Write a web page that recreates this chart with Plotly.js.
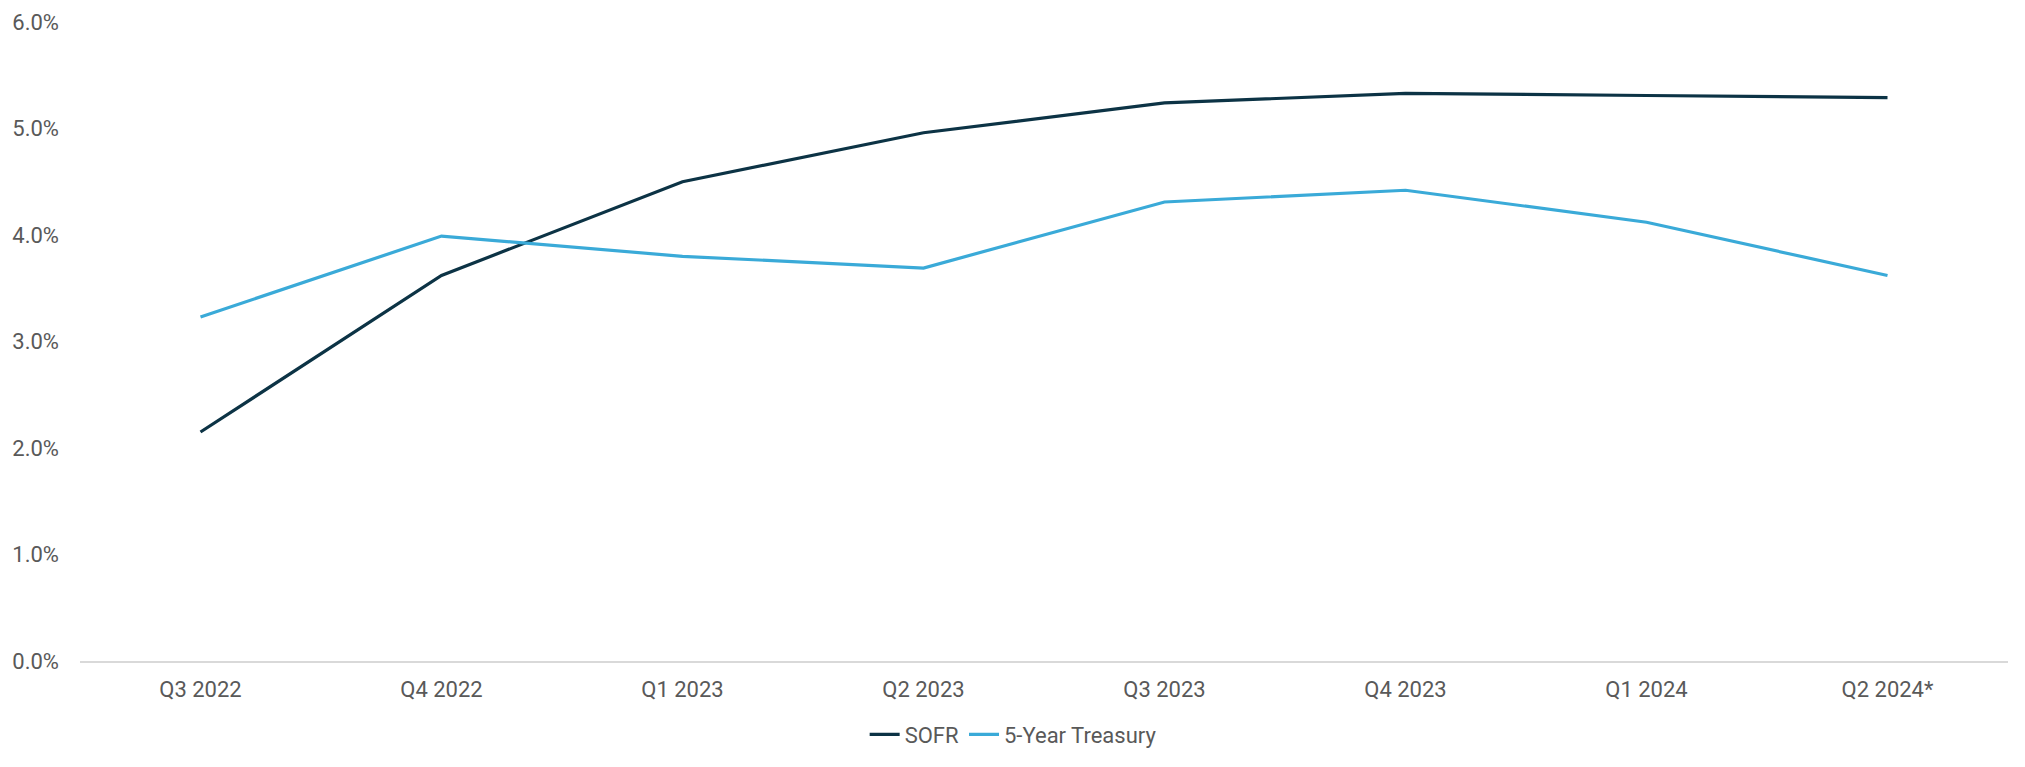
<!DOCTYPE html>
<html>
<head>
<meta charset="utf-8">
<script src="https://cdn.plot.ly/plotly-3.0.1.min.js"></script>
<style>html,body{margin:0;padding:0;background:#fff;}#chart{width:2025px;height:767px;}</style>
</head>
<body>
<div id="chart"></div>
<script>
const quarters = ["Q3 2022","Q4 2022","Q1 2023","Q2 2023","Q3 2023","Q4 2023","Q1 2024","Q2 2024*"];
const sofr = [2.15, 3.62, 4.50, 4.96, 5.24, 5.33, 5.31, 5.29];
const treasury5y = [3.23, 3.99, 3.80, 3.69, 4.31, 4.42, 4.12, 3.62];
const yTicks = [0, 1, 2, 3, 4, 5, 6];

const textColor = "#595959";
const traces = [
  {x: quarters, y: sofr, name: "SOFR", type: "scatter", mode: "lines",
   line: {color: "#0c3345", width: 3.2}},
  {x: quarters, y: treasury5y, name: "5-Year Treasury", type: "scatter", mode: "lines",
   line: {color: "#3aaad8", width: 3.2}}
];
const layout = {
  width: 2025, height: 767,
  margin: {l: 80, r: 17, t: 22, b: 102},
  paper_bgcolor: "#fff", plot_bgcolor: "#fff",
  font: {family: "Roboto, 'DejaVu Sans', sans-serif", size: 22, color: textColor},
  showlegend: true,
  legend: {orientation: "h", x: 0.484, xanchor: "center", y: -0.115, yanchor: "middle",
           font: {size: 22, color: textColor}, itemwidth: 30, tracegroupgap: 0},
  xaxis: {type: "category", range: [-0.5, 7.5], showgrid: false, zeroline: false,
          showline: true, linecolor: "#d9d9d9", linewidth: 1.5, ticks: "",
          tickfont: {size: 22, color: textColor}, ticklabelstandoff: 8},
  yaxis: {range: [0, 6], tickvals: yTicks, ticktext: yTicks.map(v => v.toFixed(1) + "%"),
          showgrid: false, zeroline: false, showline: false, ticks: "",
          tickfont: {size: 22, color: textColor}, ticklabelstandoff: 20}
};
Plotly.newPlot("chart", traces, layout, {staticPlot: true, displayModeBar: false});
</script>
</body>
</html>
